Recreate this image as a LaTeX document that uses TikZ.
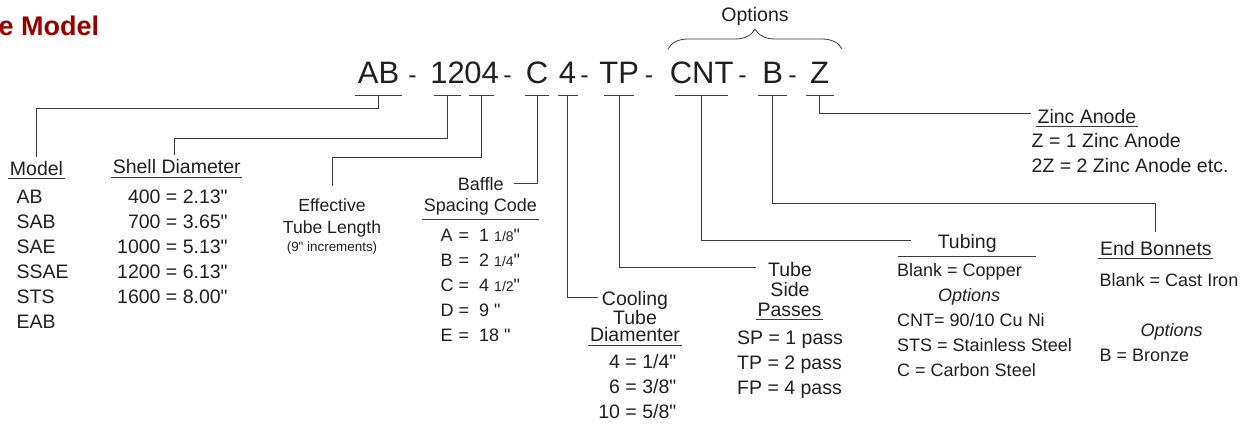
\documentclass[tikz,border=0pt]{standalone}
\usepackage{fontspec}
\setmainfont{Liberation Sans}[Ligatures=TeXOff]
\usetikzlibrary{decorations.pathreplacing}
\definecolor{ink}{RGB}{35,31,32}
\definecolor{wirecol}{RGB}{60,60,60}
\definecolor{titlered}{RGB}{153,0,0}
\newcommand\rows[2][l]{\begin{tabular}[t]{@{}#1@{}}#2\end{tabular}}
\newcommand\fr[1]{{\fontsize{14}{14}\selectfont #1}}
\tikzset{%
   code/.style={font=\fontsize{31}{31}\selectfont, text=ink, inner sep=0pt, anchor=base},
   seg/.style={code, inner ysep=11.7pt},
   dashsym/.style={code, font=\fontsize{25}{25}\selectfont},
   lbl/.style={font=\fontsize{19.5}{25}\selectfont, text=ink, inner sep=0pt},
   sml/.style={font=\fontsize{18}{25}\selectfont, text=ink, inner sep=0pt},
   head/.style={inner xsep=1.5pt, inner ysep=3.5pt, anchor=base},
   wire/.style={draw=wirecol, line width=1pt},
   title/.style={font=\fontsize{27}{27}\selectfont\bfseries, text=titlered, inner sep=0pt},
}

\begin{document}
\begin{tikzpicture}[x=1pt, y=-1pt]
   \useasboundingbox (0,0) rectangle (1246,426);
   \node[title, anchor=base west] (ttl) at (-1.5,35) {e Model};
   % model code
   \node[seg] (ab) at (378.5,83.3) {AB};
   \node[seg] (n12) at (447.5,83.3) {12};
   \node[seg] (n04) at (481.7,83.3) {04};
   \node[seg] (c) at (537,83.3) {C};
   \node[seg] (four) at (567.5,83.3) {4};
   \node[seg] (tp) at (619.2,83.3) {TP};
   \node[seg] (cnt) at (701.7,83.3) {CNT};
   \node[seg] (b) at (772.8,83.3) {B};
   \node[seg] (z) at (819.5,83.3) {Z};
   \foreach \x [count=\i] in {412.5,507.5,584.5,649,742.5,792.5}
      \node[dashsym] (d\i) at (\x,83.3) {-};
   \foreach \s/\w in {ab/47,n12/27,n04/25,c/24,four/20,tp/30,cnt/53,b/29,z/28}
      \draw[wire] ([xshift=-\w/2]\s.south) -- ([xshift=\w/2]\s.south);
   % options brace
   \coordinate (optl) at (668,49);
   \coordinate (optr) at (842,49);
   \draw[wire, line width=0.8pt, decorate, decoration={brace, amplitude=20pt}] (optl) -- (optr);
   \node[lbl, anchor=base] (opt) at (755,21.7) {Options};
   % headings
   \node[lbl, head] (model) at (36.5,175) {Model};
   \node[lbl, anchor=base west] (models) at (16.5,203) {\rows{AB\\SAB\\SAE\\SSAE\\STS\\EAB}};
   \node[lbl, head] (shell) at (176.7,173.3) {Shell Diameter};
   \node[lbl, anchor=base west] (sizes) at (117,203) {\rows[r@{ = }l]{400 & 2.13"\\700 & 3.65"\\1000 & 5.13"\\1200 & 6.13"\\1600 & 8.00"}};
   \node[sml, font=\fontsize{17.6}{21.6}\selectfont, anchor=base] (eff) at (332,211.7)
      {\rows[c]{Effective\\Tube Length\\[-3pt]{\fontsize{13.4}{16}\selectfont (9" increments)}}};
   \node[sml, anchor=base] (baf) at (480.8,190) {Baffle};
   \node[sml, head] (spc) at (480.5,211.7) {Spacing Code};
   \node[sml, anchor=base west] (bsp) at (440.5,241.7)
      {\rows[l@{ =\ \ }l]{A & 1 \fr{1/8}"\\B & 2 \fr{1/4}"\\C & 4 \fr{1/2}"\\D & 9 "\\E & 18 "}};
   \node[lbl, font=\fontsize{19.5}{18.3}\selectfont, anchor=base] (cool) at (635,305) {\rows[c]{Cooling\\Tube}};
   \node[lbl, head] (diam) at (635,341.7) {Diamenter};
   \node[lbl, anchor=base east] (csz) at (676.5,368.3) {\rows[r]{4 = 1/4"\\6 = 3/8"\\10 = 5/8"}};
   \node[lbl, font=\fontsize{19.5}{20.5}\selectfont, anchor=base] (tsp) at (790,276) {\rows[c]{Tube\\Side}};
   \node[lbl, head] (pas) at (789.5,316) {Passes};
   \node[lbl, anchor=base west] (pss) at (737,344) {\rows{SP = 1 pass\\TP = 2 pass\\FP = 4 pass}};
   \node[lbl, head, minimum width=138pt] (tub) at (967.2,248.3) {Tubing};
   \node[sml, anchor=base west] (tmat) at (897,276.7)
      {\rows{Blank = Copper\\\hspace{41pt}\textit{Options}\\CNT= 90/10 Cu Ni\\STS = Stainless Steel\\C = Carbon Steel}};
   \node[lbl, head] (endb) at (1155.9,255) {End Bonnets};
   \node[sml, anchor=base west] (bmat) at (1099.5,286.7)
      {\rows{Blank = Cast Iron\\ \\\hspace{41pt}\textit{Options}\\B = Bronze}};
   \node[lbl, head] (zinc) at (1086.9,123) {Zinc Anode};
   \node[lbl, anchor=base west] (zn) at (1031.5,147.3) {\rows{Z = 1 Zinc Anode\\2Z = 2 Zinc Anode etc.}};
   \foreach \n in {model,shell,spc,diam,pas,tub,endb,zinc}
      \draw[wire] (\n.south west) -- (\n.south east);
   % leaders
   \draw[wire] (ab.south) -- ++(0,13) -| (model.north);
   \draw[wire] (n12.south) -- ++(0,43) -| ([xshift=-2.5pt]shell.north);
   \draw[wire] (n04.south) -- ++(0,62) -| ([yshift=10pt]eff.north);
   \draw[wire] (c.south) |- ([xshift=10pt,yshift=7pt]baf.base east);
   \draw[wire] (four.south) |- ([xshift=-37pt,yshift=8pt]cool.base);
   \draw[wire] (tp.south) |- ([xshift=-12pt,yshift=9pt]tsp.base west);
   \draw[wire] (cnt.south) |- ([xshift=13.4pt,yshift=8pt]tub.base west);
   \draw[wire] (b.south) -- ++(0,108.3) -| ([yshift=5pt]endb.north);
   \draw[wire] (z.south) |- ([xshift=-5pt,yshift=9.5pt]zinc.base west);
\end{tikzpicture}
\end{document}
